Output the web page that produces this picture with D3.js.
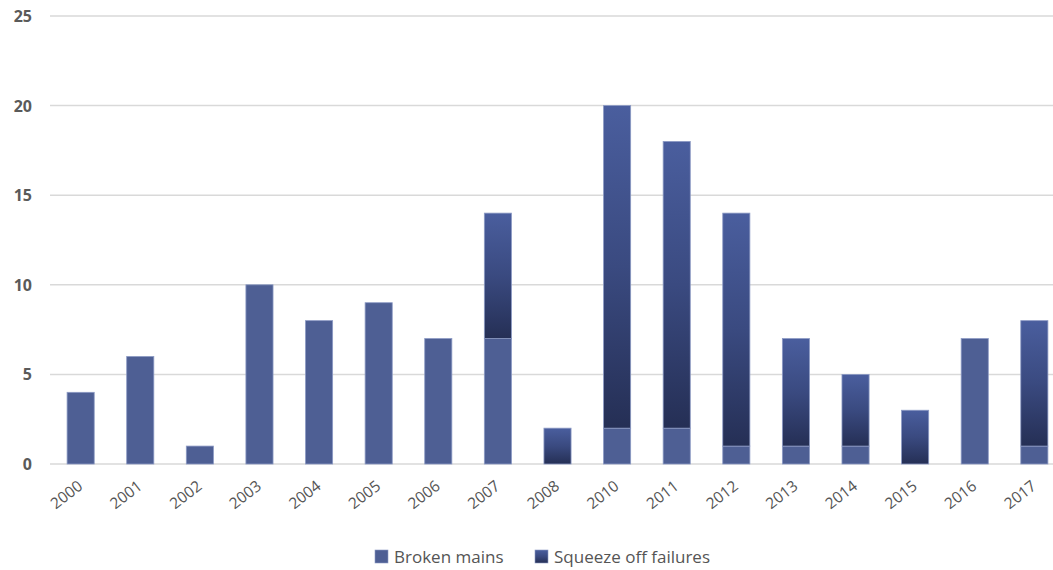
<!DOCTYPE html>
<html>
<head>
<meta charset="utf-8">
<script src="https://cdn.jsdelivr.net/npm/d3@7"></script>
<style>
  html, body { margin: 0; padding: 0; background: #fff; }
  svg { display: block; }
</style>
</head>
<body>
<svg id="chart" width="1053" height="570"></svg>
<script>
const years = ["2000","2001","2002","2003","2004","2005","2006","2007","2008","2010","2011","2012","2013","2014","2015","2016","2017"];
const brokenMains = [4, 6, 1, 10, 8, 9, 7, 7, 0, 2, 2, 1, 1, 1, 0, 7, 1];
const squeezeOff  = [0, 0, 0, 0, 0, 0, 0, 7, 2, 18, 16, 13, 6, 4, 3, 0, 7];
const yTicks = [0, 5, 10, 15, 20, 25];
const seriesNames = ["Broken mains", "Squeeze off failures"];

const svg = d3.select("#chart");
const plot = { left: 51, right: 1064, top: 16, bottom: 464 };

const x = d3.scaleBand().domain(years).range([plot.left, plot.right]).paddingInner(0.545).paddingOuter(0.27);
const y = d3.scaleLinear().domain([0, 25]).range([plot.bottom, plot.top]);

const defs = svg.append("defs");
const grad = defs.append("linearGradient").attr("id", "squeezeGrad")
  .attr("x1", 0).attr("y1", 0).attr("x2", 0).attr("y2", 1);
grad.append("stop").attr("offset", "0%").attr("stop-color", "#4a5e9e");
grad.append("stop").attr("offset", "50%").attr("stop-color", "#3a4a80");
grad.append("stop").attr("offset", "100%").attr("stop-color", "#252f55");

// Gridlines
svg.append("g").selectAll("line").data(yTicks).join("line")
  .attr("x1", 50).attr("x2", 1053)
  .attr("y1", d => y(d)).attr("y2", d => y(d))
  .attr("stroke", "#d9d9d9").attr("stroke-width", 1.5);

// Y axis labels
svg.append("g").selectAll("text").data(yTicks).join("text")
  .attr("x", 32).attr("y", d => y(d) + 6)
  .attr("text-anchor", "end")
  .attr("font-family", "Open Sans, sans-serif").attr("font-size", 16).attr("font-weight", 700)
  .attr("fill", "#5a5a5a")
  .text(d => d);

const data = years.map((yr, i) => ({ yr, b: brokenMains[i], s: squeezeOff[i] }));

// Broken mains segments
svg.append("g").selectAll("rect").data(data.filter(d => d.b > 0)).join("rect")
  .attr("x", d => x(d.yr)).attr("width", x.bandwidth())
  .attr("y", d => y(d.b)).attr("height", d => y(0) - y(d.b))
  .attr("fill", "#4e5f94").attr("stroke", "#8c9ac4").attr("stroke-width", 0.8);

// Squeeze off failure segments stacked on top
svg.append("g").selectAll("rect").data(data.filter(d => d.s > 0)).join("rect")
  .attr("x", d => x(d.yr)).attr("width", x.bandwidth())
  .attr("y", d => y(d.b + d.s)).attr("height", d => y(d.b) - y(d.b + d.s))
  .attr("fill", "url(#squeezeGrad)").attr("stroke", "#8c9ac4").attr("stroke-width", 0.8);

// X axis labels, rotated
svg.append("g").selectAll("text").data(years).join("text")
  .attr("transform", d => `translate(${x(d) + x.bandwidth() / 2 + 3},${plot.bottom + 24}) rotate(-38)`)
  .attr("text-anchor", "end")
  .attr("font-family", "Open Sans, sans-serif").attr("font-size", 15.5).attr("font-weight", 500)
  .attr("fill", "#555555")
  .text(d => d);

// Legend
const legend = svg.append("g");
const legendItems = [
  { name: seriesNames[0], fill: "#4e5f94", x: 375 },
  { name: seriesNames[1], fill: "url(#squeezeGrad)", x: 535 }
];
legendItems.forEach(it => {
  legend.append("rect").attr("x", it.x).attr("y", 550).attr("width", 13).attr("height", 13)
    .attr("fill", it.fill).attr("stroke", "#8c9ac4").attr("stroke-width", 0.6);
  legend.append("text").attr("x", it.x + 19).attr("y", 563)
    .attr("font-family", "Open Sans, sans-serif").attr("font-size", 17).attr("font-weight", 500)
    .attr("fill", "#555555").text(it.name);
});
</script>
</body>
</html>
